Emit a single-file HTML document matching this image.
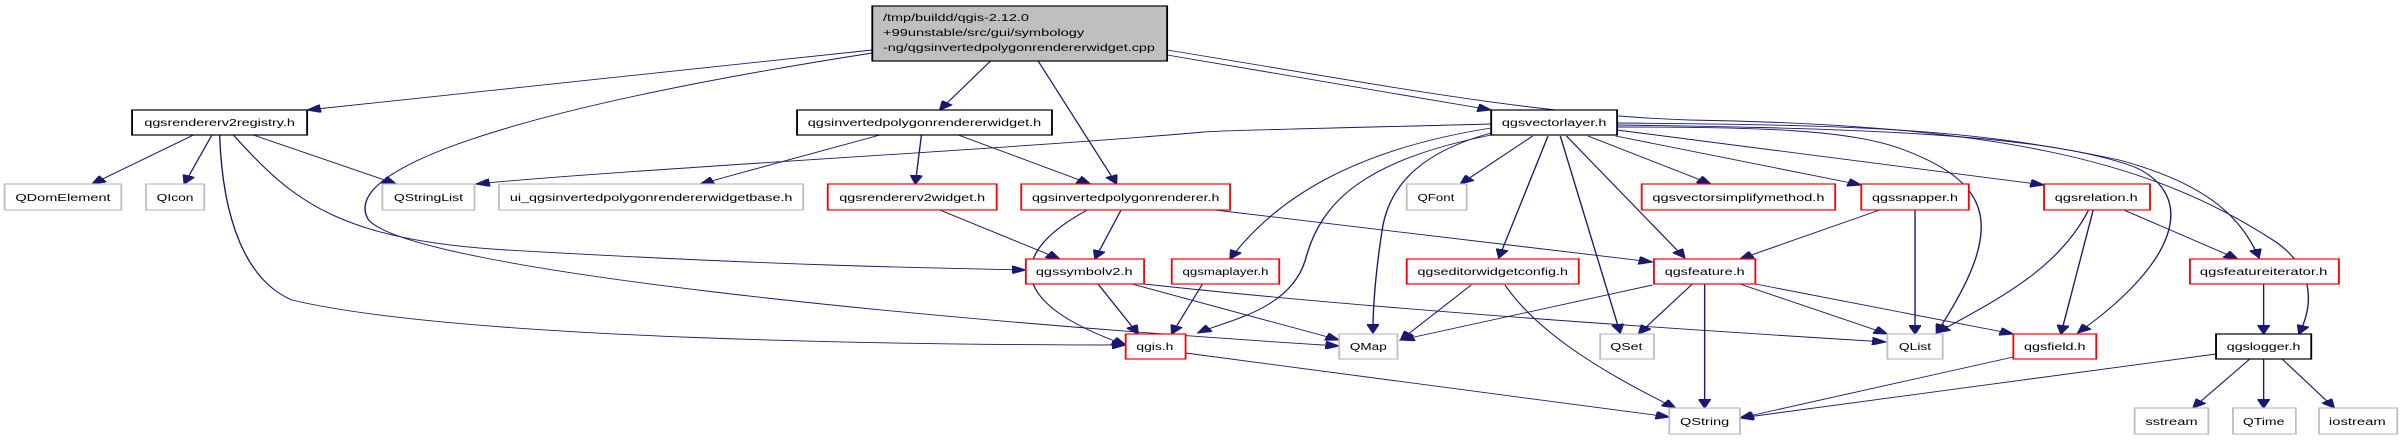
<!DOCTYPE html>
<html><head><meta charset="utf-8"><style>
html,body{margin:0;padding:0;background:#fff;}
svg{display:block;}
text{font-family:"Liberation Sans",sans-serif;font-size:10px;fill:#000;}
.g{fill:#fff;stroke:#bfbfbf;stroke-width:1.2;}
.r{fill:#fff;stroke:#ff0000;stroke-width:1.2;}
.b{fill:#fff;stroke:#000;stroke-width:1.2;}
path{fill:none;stroke:#191970;stroke-width:0.9;}
</style></head><body>
<svg width="2408" height="440" viewBox="0 0 1568 440" preserveAspectRatio="none" xmlns="http://www.w3.org/2000/svg">
<defs><marker id="a" markerUnits="userSpaceOnUse" markerWidth="10" markerHeight="8" refX="9" refY="4" orient="auto"><path d="M0,0 L9,4 L0,8 Z" style="fill:#191970;stroke:#191970;stroke-width:1"/></marker></defs>
<g marker-end="url(#a)">
<path d="M568,50 L200,110"/>
<path d="M568,53 C330,110 220,170 240,220 C270,270 600,320 872,346"/>
<path d="M152,135 C190,200 220,240 330,250 C500,265 600,268 668,270"/>
<path d="M143,135 C145,220 160,280 190,300 C300,340 600,345 733,345"/>
<path d="M126,135 L60,184"/>
<path d="M138,135 L120,184"/>
<path d="M165,135 L258,184"/>
<path d="M645,61 L612,110"/>
<path d="M676,61 L727,184"/>
<path d="M760,55 L971,110"/>
<path d="M760,50 C900,85 1000,115 1100,120 C1300,125 1400,160 1480,240 C1510,270 1505,310 1497,334"/>
<path d="M573,135 L456,184"/>
<path d="M600,135 L596,184"/>
<path d="M624,135 L710,184"/>
<path d="M971,124 C900,127 800,130 784,132 C650,150 400,170 310,184"/>
<path d="M612,210 L690,259"/>
<path d="M730,210 L713,259"/>
<path d="M708,210 C660,250 650,300 733,345"/>
<path d="M791,210 L1076,262"/>
<path d="M715,284 L741,334"/>
<path d="M737,284 L872,340"/>
<path d="M745,284 C900,310 1100,330 1228,342"/>
<path d="M783,284 L763,334"/>
<path d="M971,135 C890,160 860,200 850,260 C840,310 800,320 780,333"/>
<path d="M971,128 C880,150 830,200 801,259"/>
<path d="M971,133 C930,150 905,180 900,230 C895,280 894,310 894,333"/>
<path d="M998,136 L951,184"/>
<path d="M1008,136 L976,258"/>
<path d="M1016,136 L1055,333"/>
<path d="M1020,136 L1097,258"/>
<path d="M1034,136 L1114,184"/>
<path d="M1052,136 L1212,185"/>
<path d="M1053,130 L1331,185"/>
<path d="M1053,127 C1150,127 1206,130 1240,150 C1300,185 1305,230 1261,333"/>
<path d="M1053,125 C1200,128 1331,133 1390,167 C1430,195 1420,260 1353,333"/>
<path d="M1053,123 C1200,125 1281,127 1380,160 C1440,185 1460,220 1471,258"/>
<path d="M1224,210 L1133,259"/>
<path d="M1247,210 L1247,334"/>
<path d="M1360,210 C1340,270 1300,300 1261,333"/>
<path d="M1363,210 L1342,334"/>
<path d="M1383,210 L1457,259"/>
<path d="M1474,284 L1474,334"/>
<path d="M958,285 L912,340"/>
<path d="M980,285 C1000,330 1040,370 1091,408"/>
<path d="M1076,285 L912,340"/>
<path d="M1102,284 L1067,334"/>
<path d="M1110,284 L1110,408"/>
<path d="M1133,284 L1229,334"/>
<path d="M1143,284 L1311,334"/>
<path d="M772,353 L1087,417"/>
<path d="M1311,357 L1133,418"/>
<path d="M1443,354 L1133,418"/>
<path d="M1465,359 L1428,408"/>
<path d="M1474,359 L1474,408"/>
<path d="M1486,359 L1520,408"/>
</g>

<rect x="568" y="6" width="192" height="55" style="fill:#bfbfbf;stroke:#000;stroke-width:1.2"/>
<text x="575" y="21" textLength="95" lengthAdjust="spacingAndGlyphs">/tmp/buildd/qgis-2.12.0</text>
<text x="575" y="36" textLength="131" lengthAdjust="spacingAndGlyphs">+99unstable/src/gui/symbology</text>
<text x="575" y="51" textLength="177" lengthAdjust="spacingAndGlyphs">-ng/qgsinvertedpolygonrendererwidget.cpp</text>

<g text-anchor="middle" lengthAdjust="spacingAndGlyphs">
<rect class="b" x="86" y="110" width="114" height="25"/><text x="143" y="126" textLength="98" lengthAdjust="spacingAndGlyphs">qgsrendererv2registry.h</text>
<rect class="b" x="519" y="110" width="166" height="25"/><text x="602" y="126" textLength="152" lengthAdjust="spacingAndGlyphs">qgsinvertedpolygonrendererwidget.h</text>
<rect class="b" x="971" y="110" width="82" height="25"/><text x="1012" y="126" textLength="68" lengthAdjust="spacingAndGlyphs">qgsvectorlayer.h</text>

<rect class="g" x="3" y="184" width="76" height="26"/><text x="41" y="201" textLength="62" lengthAdjust="spacingAndGlyphs">QDomElement</text>
<rect class="g" x="95" y="184" width="38" height="26"/><text x="114" y="201" textLength="24" lengthAdjust="spacingAndGlyphs">QIcon</text>
<rect class="g" x="249" y="184" width="60" height="26"/><text x="279" y="201" textLength="45" lengthAdjust="spacingAndGlyphs">QStringList</text>
<rect class="g" x="325" y="184" width="198" height="26"/><text x="424" y="201" textLength="184" lengthAdjust="spacingAndGlyphs">ui_qgsinvertedpolygonrendererwidgetbase.h</text>
<rect class="r" x="539" y="184" width="110" height="26"/><text x="594" y="201" textLength="95" lengthAdjust="spacingAndGlyphs">qgsrendererv2widget.h</text>
<rect class="r" x="665" y="184" width="136" height="26"/><text x="733" y="201" textLength="122" lengthAdjust="spacingAndGlyphs">qgsinvertedpolygonrenderer.h</text>
<rect class="g" x="916" y="184" width="39" height="26"/><text x="935" y="201" textLength="24" lengthAdjust="spacingAndGlyphs">QFont</text>
<rect class="r" x="1069" y="184" width="126" height="26"/><text x="1132" y="201" textLength="112" lengthAdjust="spacingAndGlyphs">qgsvectorsimplifymethod.h</text>
<rect class="r" x="1212" y="184" width="70" height="26"/><text x="1247" y="201" textLength="56" lengthAdjust="spacingAndGlyphs">qgssnapper.h</text>
<rect class="r" x="1331" y="184" width="69" height="26"/><text x="1365" y="201" textLength="54" lengthAdjust="spacingAndGlyphs">qgsrelation.h</text>

<rect class="r" x="668" y="259" width="77" height="25"/><text x="706" y="275" textLength="63" lengthAdjust="spacingAndGlyphs">qgssymbolv2.h</text>
<rect class="r" x="763" y="259" width="70" height="25"/><text x="798" y="275" textLength="56" lengthAdjust="spacingAndGlyphs">qgsmaplayer.h</text>
<rect class="r" x="916" y="259" width="112" height="25"/><text x="972" y="275" textLength="98" lengthAdjust="spacingAndGlyphs">qgseditorwidgetconfig.h</text>
<rect class="r" x="1077" y="259" width="66" height="25"/><text x="1110" y="275" textLength="52" lengthAdjust="spacingAndGlyphs">qgsfeature.h</text>
<rect class="r" x="1426" y="259" width="97" height="25"/><text x="1474" y="275" textLength="83" lengthAdjust="spacingAndGlyphs">qgsfeatureiterator.h</text>

<rect class="r" x="733" y="334" width="39" height="25"/><text x="752" y="350" textLength="24" lengthAdjust="spacingAndGlyphs">qgis.h</text>
<rect class="g" x="872" y="334" width="38" height="25"/><text x="891" y="350" textLength="24" lengthAdjust="spacingAndGlyphs">QMap</text>
<rect class="g" x="1042" y="334" width="35" height="25"/><text x="1059" y="350" textLength="21" lengthAdjust="spacingAndGlyphs">QSet</text>
<rect class="g" x="1229" y="334" width="36" height="25"/><text x="1247" y="350" textLength="21" lengthAdjust="spacingAndGlyphs">QList</text>
<rect class="r" x="1311" y="334" width="54" height="25"/><text x="1338" y="350" textLength="40" lengthAdjust="spacingAndGlyphs">qgsfield.h</text>
<rect class="b" x="1443" y="334" width="62" height="25"/><text x="1474" y="350" textLength="48" lengthAdjust="spacingAndGlyphs">qgslogger.h</text>

<rect class="g" x="1087" y="408" width="46" height="26"/><text x="1110" y="425" textLength="32" lengthAdjust="spacingAndGlyphs">QString</text>
<rect class="g" x="1390" y="408" width="48" height="26"/><text x="1414" y="425" textLength="34" lengthAdjust="spacingAndGlyphs">sstream</text>
<rect class="g" x="1454" y="408" width="41" height="26"/><text x="1474" y="425" textLength="27" lengthAdjust="spacingAndGlyphs">QTime</text>
<rect class="g" x="1510" y="408" width="51" height="26"/><text x="1535" y="425" textLength="37" lengthAdjust="spacingAndGlyphs">iostream</text>
</g>
</svg>
</body></html>
